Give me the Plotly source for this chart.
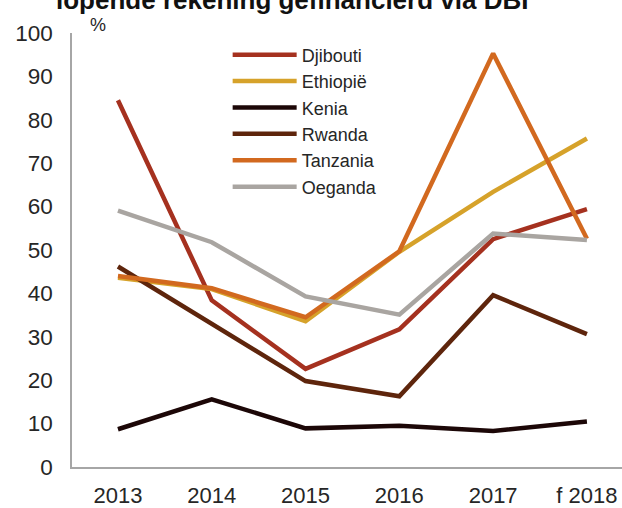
import plotly.graph_objects as go

years = ["2013", "2014", "2015", "2016", "2017", "f 2018"]
djibouti = [84.5, 38.4, 22.6, 31.7, 52.5, 59.4]
ethiopie = [43.6, 41.0, 33.6, 49.6, 63.4, 75.7]
kenia = [8.7, 15.6, 8.9, 9.5, 8.3, 10.5]
rwanda = [46.2, 33.0, 19.8, 16.3, 39.6, 30.6]
tanzania = [44.0, 41.2, 34.5, 49.7, 95.3, 52.6]
oeganda = [59.1, 51.8, 39.3, 35.1, 53.8, 52.3]

series = [
    ("Djibouti", djibouti, "#A5311F"),
    ("Ethiopië", ethiopie, "#D6A22A"),
    ("Kenia", kenia, "#1C0707"),
    ("Rwanda", rwanda, "#5E250C"),
    ("Tanzania", tanzania, "#D2691F"),
    ("Oeganda", oeganda, "#A9A5A1"),
]

xs = list(range(len(years)))
fig = go.Figure()
for name, vals, col in series:
    fig.add_trace(go.Scatter(x=xs, y=vals, name=name, mode="lines",
                             line=dict(color=col, width=4.5)))

fig.update_layout(
    width=622, height=508,
    margin=dict(l=72, r=0, t=33, b=37),
    paper_bgcolor="white", plot_bgcolor="white",
    font=dict(family="Liberation Sans, Arial, sans-serif", color="#262626"),
    showlegend=True,
    legend=dict(x=0.283, y=0.992, xanchor="left", yanchor="top",
                font=dict(size=18, color="#262626"),
                bgcolor="rgba(0,0,0,0)", itemwidth=64, tracegroupgap=0),
)
fig.update_xaxes(range=[-0.49, 5.374], tickvals=xs, ticktext=years,
                 showgrid=False, zeroline=False, showline=True,
                 linecolor="#A6A6A6", linewidth=1.5,
                 ticks="outside", ticklen=8, tickcolor="rgba(0,0,0,0)",
                 tickfont=dict(size=22, color="#262626"))
fig.update_yaxes(range=[0, 100], tickvals=list(range(0, 101, 10)),
                 showgrid=False, zeroline=False, showline=True,
                 linecolor="#A6A6A6", linewidth=1.5,
                 ticks="outside", ticklen=13, tickcolor="rgba(0,0,0,0)",
                 tickfont=dict(size=22.5, color="#262626"))

fig.add_annotation(text="<b>lopende rekening gefinancierd via DBI</b>", xref="paper", yref="paper",
                   x=0.4, y=1.0753, xanchor="center", yanchor="middle", showarrow=False,
                   font=dict(size=26, color="#111111", family="Liberation Sans, Arial, sans-serif"))
fig.add_annotation(text="%", xref="paper", yref="paper", x=(98 - 72) / 550, y=1.018,
                   xanchor="center", yanchor="middle", showarrow=False,
                   font=dict(size=18, color="#262626"))

fig.write_html("out.html")
